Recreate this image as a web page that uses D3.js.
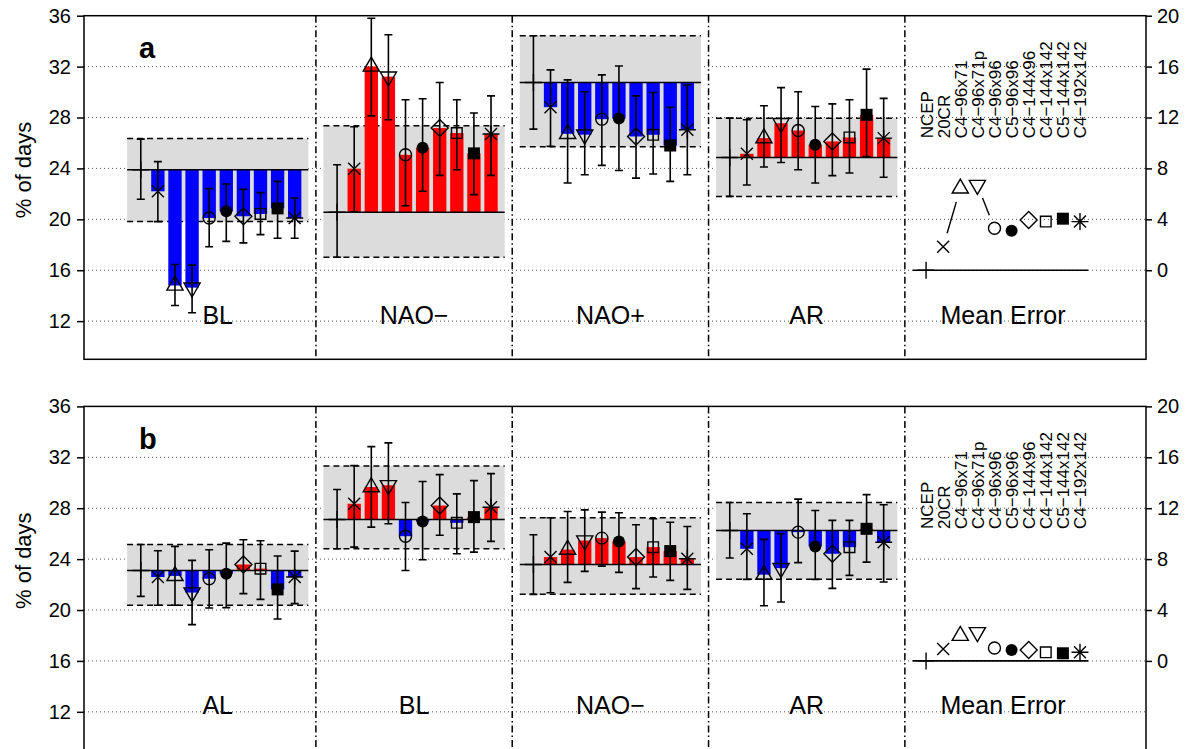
<!DOCTYPE html>
<html><head><meta charset="utf-8">
<script src="https://cdn.jsdelivr.net/npm/d3@7"></script>
<style>body{margin:0;background:#fff;} svg text{font-family:"Liberation Sans",Arial,Helvetica,sans-serif;}</style>
</head><body><svg id="c" width="1194" height="749"></svg>
<script>
// ---------------- DATA ----------------
const modelNames = ["NCEP","20CR","C4\u221296x71","C4\u221296x71p","C4\u221296x96","C5\u221296x96","C4\u2212144x96","C4\u2212144x142","C5\u2212144x142","C4\u2212192x142"];
const markerShapes = ["plus","x","triUp","triDown","circle","dot","diamond","square","fillSquare","asterisk"];
const leftTicks = [12,16,20,24,28,32,36];
const rightTicks = [0,4,8,12,16,20];

// Panel a
const groupsA = ["BL","NAO\u2212","NAO+","AR"];
const ncepA   = [23.9, 20.55, 30.75, 24.86];
const ncepHiA = [26.3, 24.29, 34.43, 27.95];
const ncepLoA = [21.58, 17.02, 27.09, 21.8];
const boxHiA  = [26.35, 27.35, 34.43, 27.95];
const boxLoA  = [19.82, 17.02, 25.7, 21.8];
const valA = [
  [22.2, 14.8, 14.63, 20.1, 20.63, 20.24, 20.42, 20.86, 20.1],
  [23.98, 32.01, 31.21, 25.07, 25.62, 27.17, 26.78, 25.18, 26.7],
  [28.81, 26.72, 26.65, 27.87, 27.92, 26.51, 26.64, 25.8, 27.04],
  [25.15, 26.38, 27.55, 26.98, 25.86, 26.12, 26.43, 28.21, 26.38]
];
const hiA = [
  [24.53, 16.45, 16.4, 22.41, 22.78, 22.35, 22.1, 22.98, 21.68],
  [27.27, 35.8, 34.5, 29.39, 29.47, 30.75, 29.39, 28.35, 29.7],
  [31.74, 30.96, 30.02, 31.35, 32.05, 29.7, 29.96, 28.81, 30.56],
  [27.82, 28.92, 30.35, 30.02, 28.86, 29.07, 29.39, 31.8, 29.5]
];
const loA = [
  [19.82, 13.23, 12.66, 17.84, 18.27, 18.15, 18.8, 18.51, 18.51],
  [20.6, 28.13, 27.82, 21.07, 22.2, 23.45, 23.9, 21.94, 23.45],
  [25.73, 22.85, 23.5, 24.24, 23.84, 23.24, 23.56, 22.98, 23.5],
  [22.7, 24.11, 24.47, 23.9, 22.85, 23.43, 23.64, 24.94, 23.3]
];
const meanErrA = [1.85, 6.43, 6.69, 3.3, 3.11, 3.95, 3.82, 4.05, 3.82];

// Panel b
const groupsB = ["AL","BL","NAO\u2212","AR"];
const ncepB   = [23.11, 27.11, 23.58, 26.25];
const ncepHiB = [25.15, 29.47, 25.91, 28.45];
const ncepLoB = [21.07, 24.81, 21.23, 24.09];
const boxHiB  = [25.15, 31.32, 27.25, 28.45];
const boxLoB  = [20.37, 24.81, 21.23, 22.41];
const valB = [
  [22.59, 22.68, 21.37, 22.46, 22.85, 23.58, 23.25, 21.62, 22.59],
  [28.35, 29.66, 29.8, 25.8, 26.96, 28.21, 26.85, 27.3, 28.08],
  [24.16, 24.75, 25.46, 25.65, 25.39, 24.16, 24.94, 24.63, 24.03],
  [24.81, 22.78, 23.29, 26.12, 25.0, 24.42, 24.94, 26.38, 25.33]
];
const hiB = [
  [24.66, 25.0, 23.9, 24.74, 25.26, 25.52, 25.44, 24.24, 24.63],
  [31.35, 32.84, 33.13, 28.45, 30.1, 30.64, 29.13, 30.17, 30.72],
  [27.25, 27.74, 27.87, 27.69, 27.64, 26.7, 27.17, 26.9, 26.56],
  [27.56, 25.55, 25.99, 28.71, 27.82, 27.04, 27.04, 29.07, 28.27]
];
const loB = [
  [20.37, 20.37, 18.85, 20.16, 20.19, 21.29, 20.84, 19.29, 20.5],
  [24.94, 26.51, 26.78, 23.11, 23.95, 25.88, 24.42, 24.55, 25.39],
  [21.36, 22.17, 23.04, 23.45, 22.96, 21.68, 22.59, 22.33, 21.62],
  [22.41, 20.33, 20.63, 23.72, 22.41, 21.7, 22.72, 23.76, 22.2]
];
const meanErrB = [0.94, 1.98, 2.25, 1.02, 0.86, 0.86, 0.68, 0.6, 0.68];

// ---------------- LAYOUT ----------------
const svg = d3.select("#c");
const FONT = '"Liberation Sans",Arial,Helvetica,sans-serif';
const x = d3.scaleLinear().domain([0, 62.1]).range([84, 1146]);
const pos = (g, i) => 3.32 + 11.48 * g + i;
const BAR_W = 0.78;
const R = 6;

const panels = [
  {top: 15.7, bottom: 359.3, letter: "a", groups: groupsA, ncep: ncepA, ncepHi: ncepHiA, ncepLo: ncepLoA,
   boxHi: boxHiA, boxLo: boxLoA, val: valA, hi: hiA, lo: loA, me: meanErrA},
  {top: 406.4, bottom: 750.0, letter: "b", groups: groupsB, ncep: ncepB, ncepHi: ncepHiB, ncepLo: ncepLoB,
   boxHi: boxHiB, boxLo: boxLoB, val: valB, hi: hiB, lo: loB, me: meanErrB}
];

function marker(sel, shape, cx, cy) {
  const a = Math.SQRT2 * R;
  let path = null;
  const stroke = {stroke: "#000", "stroke-width": 1.4, fill: "none"};
  const apply = (el, attrs) => { for (const k in attrs) el.attr(k, attrs[k]); return el; };
  if (shape === "plus") path = `M${cx-a},${cy}H${cx+a}M${cx},${cy-a}V${cy+a}`;
  else if (shape === "x") path = `M${cx-R},${cy-R}L${cx+R},${cy+R}M${cx-R},${cy+R}L${cx+R},${cy-R}`;
  else if (shape === "asterisk") path = `M${cx-R},${cy-R}L${cx+R},${cy+R}M${cx-R},${cy+R}L${cx+R},${cy-R}M${cx-a},${cy}H${cx+a}M${cx},${cy-a}V${cy+a}`;
  else if (shape === "triUp" || shape === "triDown") {
    const r = 1.555 * R, xc = 0.866 * r, yc = 0.5 * r, s = shape === "triUp" ? 1 : -1;
    path = `M${cx},${cy - s*r}L${cx+xc},${cy + s*yc}L${cx-xc},${cy + s*yc}Z`;
  } else if (shape === "diamond") path = `M${cx-a},${cy}L${cx},${cy-a}L${cx+a},${cy}L${cx},${cy+a}Z`;
  else if (shape === "square") { const h = 0.886 * R; path = `M${cx-h},${cy-h}H${cx+h}V${cy+h}H${cx-h}Z`; }
  if (path) { apply(sel.append("path").attr("d", path), stroke); return; }
  if (shape === "circle") apply(sel.append("circle").attr("cx", cx).attr("cy", cy).attr("r", R), stroke);
  else if (shape === "dot") sel.append("circle").attr("cx", cx).attr("cy", cy).attr("r", R).attr("fill", "#000");
  else if (shape === "fillSquare") sel.append("rect").attr("x", cx-R).attr("y", cy-R).attr("width", 2*R).attr("height", 2*R).attr("fill", "#000");
}

function errBar(sel, cx, yHi, yLo) {
  const c = 4;
  sel.append("path").attr("d", `M${cx},${yHi}V${yLo}M${cx-c},${yHi}H${cx+c}M${cx-c},${yLo}H${cx+c}`)
    .attr("stroke", "#000").attr("stroke-width", 1.6).attr("fill", "none");
}

panels.forEach(p => {
  const y = d3.scaleLinear().domain([9, 36]).range([p.bottom, p.top]);
  const yR = d3.scaleLinear().domain([-7, 20]).range([p.bottom, p.top]);
  const G = svg.append("g");

  // grid
  G.selectAll("line.grid").data(leftTicks.filter(v => v < 36)).join("line")
    .attr("x1", x.range()[0]).attr("x2", x.range()[1])
    .attr("y1", d => y(d)).attr("y2", d => y(d))
    .attr("stroke", "#555").attr("stroke-width", 1).attr("stroke-dasharray", "1,3");

  p.groups.forEach((name, g) => {
    const gx0 = x(pos(g, 0) - 0.8), gx1 = x(pos(g, 9) + 0.8);
    G.append("rect").attr("x", gx0).attr("width", gx1 - gx0)
      .attr("y", y(p.boxHi[g])).attr("height", y(p.boxLo[g]) - y(p.boxHi[g])).attr("fill", "#dcdcdc");
    [p.boxHi[g], p.boxLo[g]].forEach(v => {
      G.append("line").attr("x1", gx0).attr("x2", gx1).attr("y1", y(v)).attr("y2", y(v))
        .attr("stroke", "#000").attr("stroke-width", 1.5).attr("stroke-dasharray", "6,4");
    });
    // bars
    p.val[g].forEach((v, k) => {
      const i = k + 1;
      const bx = x(pos(g, i) - BAR_W / 2), bw = x(pos(g, i) + BAR_W / 2) - bx;
      const y0 = y(p.ncep[g]), y1 = y(v);
      G.append("rect").attr("x", bx).attr("width", bw)
        .attr("y", Math.min(y0, y1)).attr("height", Math.abs(y1 - y0))
        .attr("fill", v > p.ncep[g] ? "#ff0000" : "#0000ff");
    });
    // NCEP line
    G.append("line").attr("x1", gx0).attr("x2", gx1).attr("y1", y(p.ncep[g])).attr("y2", y(p.ncep[g]))
      .attr("stroke", "#000").attr("stroke-width", 1.6);
    // error bars
    errBar(G, x(pos(g, 0)), y(p.ncepHi[g]), y(p.ncepLo[g]));
    p.val[g].forEach((v, k) => errBar(G, x(pos(g, k + 1)), y(p.hi[g][k]), y(p.lo[g][k])));
    // markers
    marker(G, markerShapes[0], x(pos(g, 0)), y(p.ncep[g]));
    p.val[g].forEach((v, k) => marker(G, markerShapes[k + 1], x(pos(g, k + 1)), y(v)));
    // label
    G.append("text").attr("x", x(pos(g, 4.5))).attr("y", p.top + 307.8)
      .attr("text-anchor", "middle").attr("font-size", 25).attr("font-family", FONT).text(name);
  });

  // Mean error group
  const mg = 4;
  G.append("line").attr("x1", x(pos(mg, 0) - 0.78)).attr("x2", x(pos(mg, 9) + 0.48))
    .attr("y1", yR(0)).attr("y2", yR(0)).attr("stroke", "#000").attr("stroke-width", 1.6);
  marker(G, "plus", x(pos(mg, 0)), yR(0));
  const pts = p.me.map((v, k) => [x(pos(mg, k + 1)), yR(v)]);
  const gap = 14;
  for (let k = 0; k < pts.length - 1; k++) {
    const [ax, ay] = pts[k], [bx, by] = pts[k + 1];
    const L = Math.hypot(bx - ax, by - ay);
    if (L > 2 * gap) {
      const ux = (bx - ax) / L, uy = (by - ay) / L;
      G.append("line").attr("x1", ax + ux * gap).attr("y1", ay + uy * gap)
        .attr("x2", bx - ux * gap).attr("y2", by - uy * gap)
        .attr("stroke", "#000").attr("stroke-width", 1.4);
    }
  }
  pts.forEach((pt, k) => marker(G, markerShapes[k + 1], pt[0], pt[1]));
  G.append("text").attr("x", x(pos(mg, 4.5))).attr("y", p.top + 307.8)
    .attr("text-anchor", "middle").attr("font-size", 25).attr("font-family", FONT).text("Mean Error");
  // legend texts
  modelNames.forEach((nm, i) => {
    G.append("text").attr("transform", `translate(${x(pos(mg, i))},${p.top + 122.6}) rotate(-90)`)
      .attr("dy", "0.38em").attr("font-size", 17).attr("font-family", FONT).text(nm);
  });

  // dividers
  for (let g = 0; g < 4; g++) {
    const xd = x(pos(g, 9) + 1.24);
    G.append("line").attr("x1", xd).attr("x2", xd).attr("y1", p.top).attr("y2", p.bottom)
      .attr("stroke", "#000").attr("stroke-width", 1.5).attr("stroke-dasharray", "7,3,1.5,3");
  }

  // axes
  const la = G.append("g").attr("transform", `translate(${x.range()[0]},0)`)
    .call(d3.axisLeft(y).tickValues(leftTicks).tickSize(7).tickPadding(6).tickSizeOuter(0));
  la.select(".domain").remove();
  la.attr("font-size", 20).attr("font-family", FONT);
  la.selectAll("line").attr("stroke-width", 1.5);
  la.selectAll("text").attr("fill", "#000");
  const ra = G.append("g").attr("transform", `translate(${x.range()[1]},0)`)
    .call(d3.axisRight(yR).tickValues(rightTicks).tickSize(6).tickPadding(5).tickSizeOuter(0));
  ra.select(".domain").remove();
  ra.attr("font-size", 20).attr("font-family", FONT);
  ra.selectAll("line").attr("stroke-width", 1.5);
  ra.selectAll("text").attr("fill", "#000");

  // frame
  G.append("rect").attr("x", x.range()[0]).attr("y", p.top)
    .attr("width", x.range()[1] - x.range()[0]).attr("height", p.bottom - p.top)
    .attr("fill", "none").attr("stroke", "#000").attr("stroke-width", 1.5);

  // panel letter
  G.append("text").attr("x", 139).attr("y", p.top + 42.6).attr("font-size", 29)
    .attr("font-weight", "bold").attr("font-family", FONT).text(p.letter);
  // y title
  G.append("text").attr("transform", `translate(31,${p.top + 154.3}) rotate(-90)`)
    .attr("text-anchor", "middle").attr("font-size", 22).attr("font-family", FONT).text("% of days");
});
</script></body></html>
